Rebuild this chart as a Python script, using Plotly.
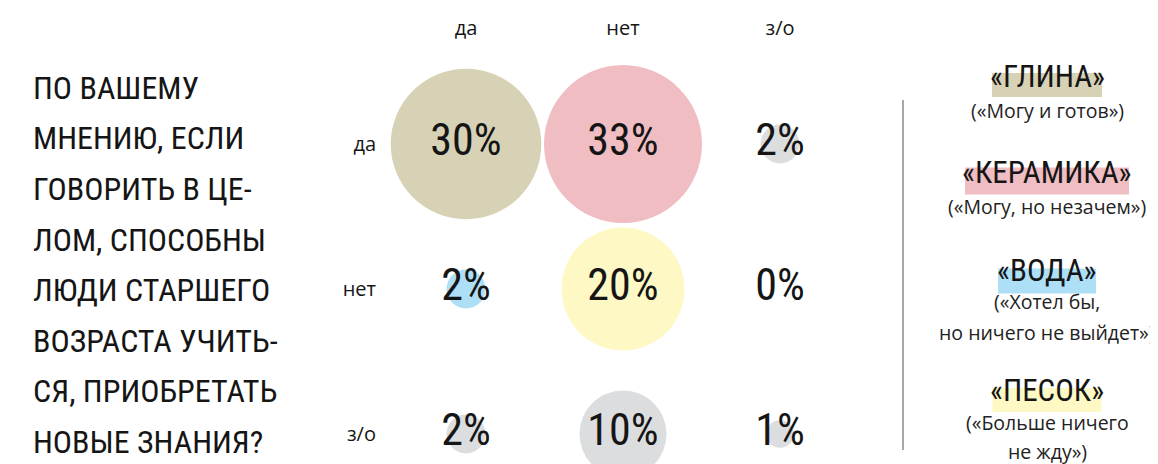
import math
import plotly.graph_objects as go

# page offset: the browser body adds an 8px margin
OFF = 8
W, H = 1158 - OFF, 464 - OFF

# ---------------- data ----------------
answer_cols = ["да", "нет", "з/о"]          # column categories
answer_rows = ["да", "нет", "з/о"]          # row categories
# percentages, rows x cols
values = [
    [30, 33, 2],
    [2, 20, 0],
    [2, 10, 1],
]

title_lines = [
    "ПО ВАШЕМУ",
    "МНЕНИЮ, ЕСЛИ",
    "ГОВОРИТЬ В ЦЕ-",
    "ЛОМ, СПОСОБНЫ",
    "ЛЮДИ СТАРШЕГО",
    "ВОЗРАСТА УЧИТЬ-",
    "СЯ, ПРИОБРЕТАТЬ",
    "НОВЫЕ ЗНАНИЯ?",
]

legend_names = ["«ГЛИНА»", "«КЕРАМИКА»", "«ВОДА»", "«ПЕСОК»"]
legend_descs = [
    ["(«Могу и готов»)"],
    ["(«Могу, но незачем»)"],
    ["(«Хотел бы,", "но ничего не выйдет»)"],
    ["(«Больше ничего", "не жду»)"],
]

# ---------------- styles ----------------
C_GLINA = "#d7d2b6"
C_KERAM = "#efbdc2"
C_VODA = "#addff7"
C_PESOK = "#fef8c4"
C_GRAY = "#dcdddf"
legend_colors = [C_GLINA, C_KERAM, C_VODA, C_PESOK]
cell_colors = {(0, 0): C_GLINA, (0, 1): C_KERAM, (1, 0): C_VODA, (1, 1): C_PESOK}

NARROW = "Roboto Condensed, DejaVu Sans Condensed, sans-serif"
REG = "Open Sans, Roboto, sans-serif"
INK = "#151515"


def px(x):
    """screen x pixel -> paper"""
    return (x - OFF) / W


def py(y):
    """screen y pixel -> paper"""
    return 1 - (y - OFF) / H


# ---------------- bubbles ----------------
xs, ys, sizes, colors, texts = [], [], [], [], []
for i, r in enumerate(answer_rows):
    for j, c in enumerate(answer_cols):
        v = values[i][j]
        xs.append(c)
        ys.append(r)
        sizes.append(27.5 * math.sqrt(v))
        colors.append(cell_colors.get((i, j), C_GRAY))
        texts.append(f"{v}%")

fig = go.Figure(
    go.Scatter(
        x=xs,
        y=ys,
        mode="markers+text",
        text=texts,
        textposition="middle center",
        textfont=dict(family=NARROW, size=44, color=INK),
        marker=dict(size=sizes, sizemode="diameter", color=colors, line=dict(width=0), opacity=1),
        cliponaxis=False,
        hoverinfo="skip",
    )
)

# axis mapping (screen pixel layout)
x_dom0, x_dom1 = 377, 860
x_step, x_c0 = 157, 466
x_r0 = -(x_c0 - x_dom0) / x_step
x_r1 = x_r0 + (x_dom1 - x_dom0) / x_step

y_top, y_bot = 40, 464
y_step, y_c0 = 145, 144
y_r0 = -(y_c0 - y_top) / y_step
y_r1 = y_r0 + (y_bot - y_top) / y_step

fig.update_xaxes(
    type="category",
    categoryorder="array",
    categoryarray=answer_cols,
    side="top",
    domain=[px(x_dom0), px(x_dom1)],
    range=[x_r0, x_r1],
    showgrid=False, zeroline=False, showline=False, ticks="",
    tickfont=dict(family=REG, size=20, color=INK),
    fixedrange=True,
)
fig.update_yaxes(
    type="category",
    categoryorder="array",
    categoryarray=answer_rows,
    domain=[0, py(y_top)],
    range=[y_r1, y_r0],
    showgrid=False, zeroline=False, showline=False, ticks="",
    tickfont=dict(family=REG, size=20, color=INK),
    fixedrange=True,
)

annotations = []
shapes = []

# ---------------- title ----------------
for k, line in enumerate(title_lines):
    annotations.append(dict(
        xref="paper", yref="paper", x=px(31), y=py(88 + k * 50.5),
        xanchor="left", yanchor="middle", showarrow=False,
        text=line, font=dict(family=NARROW, size=32, color=INK),
    ))

# ---------------- legend ----------------
LX = 1047
name_y = [76, 172, 270, 390]
box_w = [110, 164, 98, 109]
box_h = [24, 27, 25, 24]
box_dy = [9, 9, 11, 10]
desc_y = [[111], [206], [301, 332], [422, 451]]
for k, name in enumerate(legend_names):
    cy = name_y[k] + box_dy[k]
    shapes.append(dict(
        type="rect", xref="paper", yref="paper", layer="below",
        x0=px(LX - box_w[k] / 2), x1=px(LX + box_w[k] / 2),
        y0=py(cy + box_h[k] / 2), y1=py(cy - box_h[k] / 2),
        fillcolor=legend_colors[k], line=dict(width=0),
    ))
    annotations.append(dict(
        xref="paper", yref="paper", x=px(LX), y=py(name_y[k]),
        xanchor="center", yanchor="middle", showarrow=False,
        text=name, font=dict(family=NARROW, size=31, color=INK),
    ))
    for m, d in enumerate(legend_descs[k]):
        annotations.append(dict(
            xref="paper", yref="paper", x=px(LX), y=py(desc_y[k][m]),
            xanchor="center", yanchor="middle", showarrow=False,
            text=d, font=dict(family=REG, size=19.5, color="#222222"),
        ))

shapes.append(dict(
    type="line", xref="paper", yref="paper",
    x0=px(903), x1=px(903), y0=py(100), y1=py(450),
    line=dict(color="#a8a8a8", width=2),
))

fig.update_layout(
    width=W, height=H,
    margin=dict(l=0, r=0, t=0, b=0),
    paper_bgcolor="white", plot_bgcolor="white",
    showlegend=False,
    annotations=annotations,
    shapes=shapes,
)

fig.write_html("out.html")
